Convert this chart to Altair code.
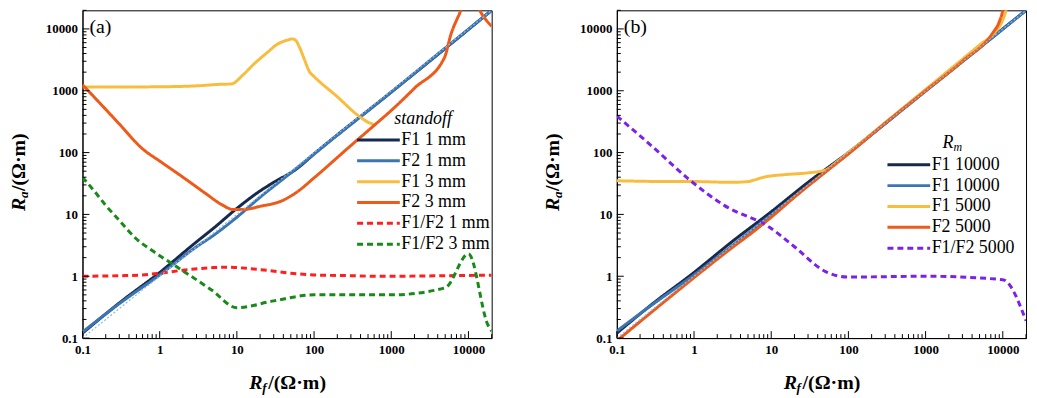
import altair as alt
import pandas as pd

FONT = "Liberation Serif"
W, H = 412, 330

# ---------------- data: panel (a) ----------------
a_names = ["F1 1 mm", "F2 1 mm", "F1 3 mm", "F2 3 mm", "F1/F2 1 mm", "F1/F2 3 mm"]
a_colors = ["#17294d", "#3b76b3", "#f8bc3e", "#ee5a19", "#ff1f1f", "#188a18"]

a_f1_1_x = [0.1, 0.3, 1, 3, 5, 10, 20, 30, 60, 100, 1000, 10000, 20000]
a_f1_1_y = [0.12, 0.37, 1.15, 3.6, 6, 12.5, 24, 33, 55, 95, 950, 9800, 20000]
a_f2_1_x = [0.1, 0.3, 1, 3, 5, 10, 20, 50, 100, 1000, 5000, 10000, 20000]
a_f2_1_y = [0.125, 0.36, 1.05, 3.0, 4.6, 9.0, 19, 47, 95, 950, 4900, 9900, 20000]
a_f1_3_x = [0.1, 0.3, 1, 3, 6, 8.5, 12, 16.6, 25, 33, 45, 52, 58, 65, 73, 88, 100, 200, 380, 500, 600]
a_f1_3_y = [1150, 1150, 1160, 1200, 1270, 1290, 1800, 2700, 4200, 5600, 6600, 6900, 6500, 5000, 3500, 2000, 1700, 800, 390, 310, 285]
a_f2_3_x = [0.1, 0.2, 0.3, 0.6, 1, 2, 4, 6.3, 9, 12, 20, 40, 60, 100, 300, 630, 1000, 2000, 4900, 5900, 8000, 10500, 14000, 20000]
a_f2_3_y = [1250, 500, 290, 115, 73, 40, 21.5, 14.5, 12, 12, 13.5, 17, 23, 39, 130, 290, 480, 1100, 3460, 8000, 20000, 45000, 20000, 11000]
a_r1_x = [0.1, 0.3, 0.6, 1, 2, 5, 8, 10, 20, 50, 100, 300, 600, 1000, 5000, 10000, 20000]
a_r1_y = [1.0, 1.02, 1.05, 1.12, 1.25, 1.38, 1.4, 1.38, 1.28, 1.12, 1.05, 1.02, 1.0, 1.0, 1.02, 1.03, 1.04]
a_r3_x = [0.1, 0.15, 0.2, 0.3, 0.5, 0.8, 1.5, 4.7, 10, 30, 100, 1000, 5000, 10000, 18000, 20000]
a_r3_y = [40, 22, 14, 8, 4, 2.6, 1.55, 0.6, 0.31, 0.4, 0.5, 0.5, 0.65, 2.3, 0.16, 0.13]

# ---------------- data: panel (b) ----------------
b_names = ["F1 10000", "F1 10000 ", "F1 5000", "F2 5000", "F1/F2 5000"]
b_colors = ["#17294d", "#3b76b3", "#f8bc3e", "#ee5a19", "#7b22e8"]

b_f1_a_x = [0.1, 0.3, 1, 3, 9.5, 30, 100, 1000, 10000, 20000]
b_f1_a_y = [0.12, 0.37, 1.15, 3.5, 10.5, 33, 100, 1000, 10000, 20000]
b_f1_b_x = [0.1, 0.3, 1, 3, 10, 100, 1000, 10000, 20000]
b_f1_b_y = [0.13, 0.36, 1.05, 3.0, 9.8, 98, 990, 9900, 20000]
b_f1_5_x = [0.1, 0.5, 1, 3, 5, 6, 8, 15, 30, 50, 70, 100, 1000, 5000, 8000, 10000, 11000, 12000]
b_f1_5_y = [35, 34, 34, 33, 34, 36, 40, 44, 47, 52, 70, 100, 1050, 5500, 9000, 14000, 20000, 35000]
b_f2_5_x = [0.1, 0.3, 1, 3, 6.5, 10, 20, 50, 100, 300, 1000, 3000, 7400, 9000, 10000, 11000]
b_f2_5_y = [0.09, 0.28, 0.95, 2.8, 5.8, 9, 19, 48, 95, 300, 1000, 3000, 8600, 13000, 20000, 40000]
b_r_x = [0.1, 0.3, 0.88, 2.46, 9.5, 20, 50, 100, 1000, 10000, 20000]
b_r_y = [390, 120, 36, 14, 6.2, 3, 1.2, 0.97, 1.0, 0.88, 0.19]

ref_x = [0.1, 20000]
ref_y = [0.1, 20000]

major_ticks = [0.1, 1, 10, 100, 1000, 10000]
minor_ticks = [m * d for d in [0.1, 1, 10, 100, 1000, 10000] for m in range(2, 10) if m * d <= 20000]

AX = dict(values=major_ticks, format="~g", ticks=False, grid=False, title=None,
          domainColor="black", labelFont=FONT, labelFontWeight="bold", labelFontSize=13,
          labelColor="black", labelFlush=False, labelOverlap=False)
XAXIS = alt.Axis(labelPadding=6, **AX)
YAXIS = alt.Axis(labelPadding=5, **AX)
XS = alt.Scale(type="log", domain=[0.1, 20000], nice=False)
YS = alt.Scale(type="log", domain=[0.1, 20000], nice=False)


def X(f):
    return alt.X(f, scale=XS, axis=XAXIS, title=None)


def Y(f):
    return alt.Y(f, scale=YS, axis=YAXIS, title=None)


def frame(xs, ys, name):
    return pd.DataFrame({"x": xs, "y": ys, "s": name})


def panel(series, names, colors, dashes, widths, legend, label, extra_text):
    df = pd.concat([frame(x, y, n) for (x, y, n) in series], ignore_index=True)
    df["o"] = df.groupby("s").cumcount()
    lines = alt.Chart(df).mark_line(interpolate="monotone", clip=True).encode(
        x=X("x:Q"), y=Y("y:Q"),
        color=alt.Color("s:N", scale=alt.Scale(domain=names, range=colors), legend=legend),
        strokeDash=alt.StrokeDash("s:N", scale=alt.Scale(domain=names, range=dashes), legend=legend),
        strokeWidth=alt.StrokeWidth("s:N", scale=alt.Scale(domain=names, range=widths), legend=None),
        detail="s:N",
        order="o:Q",
    )
    ref = alt.Chart(pd.DataFrame({"x": ref_x, "y": ref_y})).mark_line(
        color="#8db8e0", strokeWidth=1.2, strokeDash=[2, 2], clip=True
    ).encode(x=X("x:Q"), y=Y("y:Q"))

    def xt(vals, L):
        return alt.Chart(pd.DataFrame({"x": vals})).mark_rule(color="black", strokeWidth=1).encode(
            x=X("x:Q"), y=alt.value(H), y2=alt.value(H - L))

    def yt(vals, L):
        return alt.Chart(pd.DataFrame({"y": vals})).mark_rule(color="black", strokeWidth=1).encode(
            y=Y("y:Q"), x=alt.value(0), x2=alt.value(L))

    def txt(t, x, y, size, style="normal", weight="normal", angle=0, dx=0, dy=0, align="left"):
        return alt.Chart(pd.DataFrame({"t": [t]})).mark_text(
            font=FONT, fontSize=size, fontStyle=style, fontWeight=weight, angle=angle,
            dx=dx, dy=dy, align=align, baseline="middle", color="black"
        ).encode(text="t:N", x=alt.value(x), y=alt.value(y))

    tx0, ty0 = W / 2 - 38, H + 45
    yx0, yy0 = -64, H / 2 + 37
    texts = [
        txt("R", tx0, ty0, 20, "italic", "bold"),
        txt("f", tx0, ty0, 13, "italic", "bold", dx=13, dy=5),
        txt("/(Ω·m)", tx0, ty0, 20, "normal", "bold", dx=19),
        txt("R", yx0, yy0, 20, "italic", "bold", angle=270),
        txt("a", yx0, yy0, 13, "italic", "bold", angle=270, dx=13, dy=5),
        txt("/(Ω·m)", yx0, yy0, 20, "normal", "bold", angle=270, dx=20),
        txt(label, 7, 17, 20),
    ] + [txt(*e[:2], *e[2:4], **e[4]) for e in extra_text]

    return alt.layer(
        lines, ref,
        xt(major_ticks, 7), xt(minor_ticks, 4), yt(major_ticks, 7), yt(minor_ticks, 4),
        *texts,
    ).properties(width=W, height=H)


def make_legend(x, y, title):
    kw = dict(orient="none", legendX=x, legendY=y, symbolType="stroke", symbolSize=1849,
              symbolStrokeWidth=2.5, clipHeight=21, rowPadding=0, padding=0, labelOffset=0,
              labelFont=FONT, labelFontSize=18, labelColor="black")
    if title:
        kw.update(title=title, titleFont=FONT, titleFontStyle="italic", titleFontWeight="normal",
                  titleFontSize=18, titleColor="black", titleAnchor="middle", titlePadding=2)
    else:
        kw.update(title=None)
    return alt.Legend(**kw)


a_series = [(a_f1_1_x, a_f1_1_y, a_names[0]), (a_f2_1_x, a_f2_1_y, a_names[1]),
            (a_f1_3_x, a_f1_3_y, a_names[2]), (a_f2_3_x, a_f2_3_y, a_names[3]),
            (a_r1_x, a_r1_y, a_names[4]), (a_r3_x, a_r3_y, a_names[5])]
b_series = [(b_f1_a_x, b_f1_a_y, b_names[0]), (b_f1_b_x, b_f1_b_y, b_names[1]),
            (b_f1_5_x, b_f1_5_y, b_names[2]), (b_f2_5_x, b_f2_5_y, b_names[3]),
            (b_r_x, b_r_y, b_names[4])]

solid, dash = [1, 0], [6, 4]
pa = panel(a_series, a_names, a_colors, [solid] * 4 + [dash] * 2, [3, 3, 3, 3, 2, 2],
           make_legend(275, 100, "standoff"), "(a)", [])
pb = panel(b_series, b_names, b_colors, [solid] * 4 + [dash], [3, 3, 3, 3, 2],
           make_legend(271, 145, None), "(b)",
           [("R", 328, 134, 18, dict(style="italic")),
            ("m", 328, 134, 12, dict(style="italic", dx=11, dy=4))])

chart = alt.hconcat(pa, pb, spacing=50).resolve_scale(
    color="independent", strokeDash="independent", strokeWidth="independent"
).resolve_legend(color="independent", strokeDash="independent").properties(
    padding={"left": 0, "top": 0, "right": 2, "bottom": 0}
).configure_view(stroke="black", strokeWidth=1).configure_axis(
    domainColor="black", domainWidth=1, labelFont=FONT, labelFontWeight="bold",
    labelFontSize=13, labelColor="black", ticks=False, grid=False
).configure_axisX(labelPadding=6).configure_axisY(labelPadding=5)

chart.save("out.html", embed_options={"renderer": "svg", "actions": False})
